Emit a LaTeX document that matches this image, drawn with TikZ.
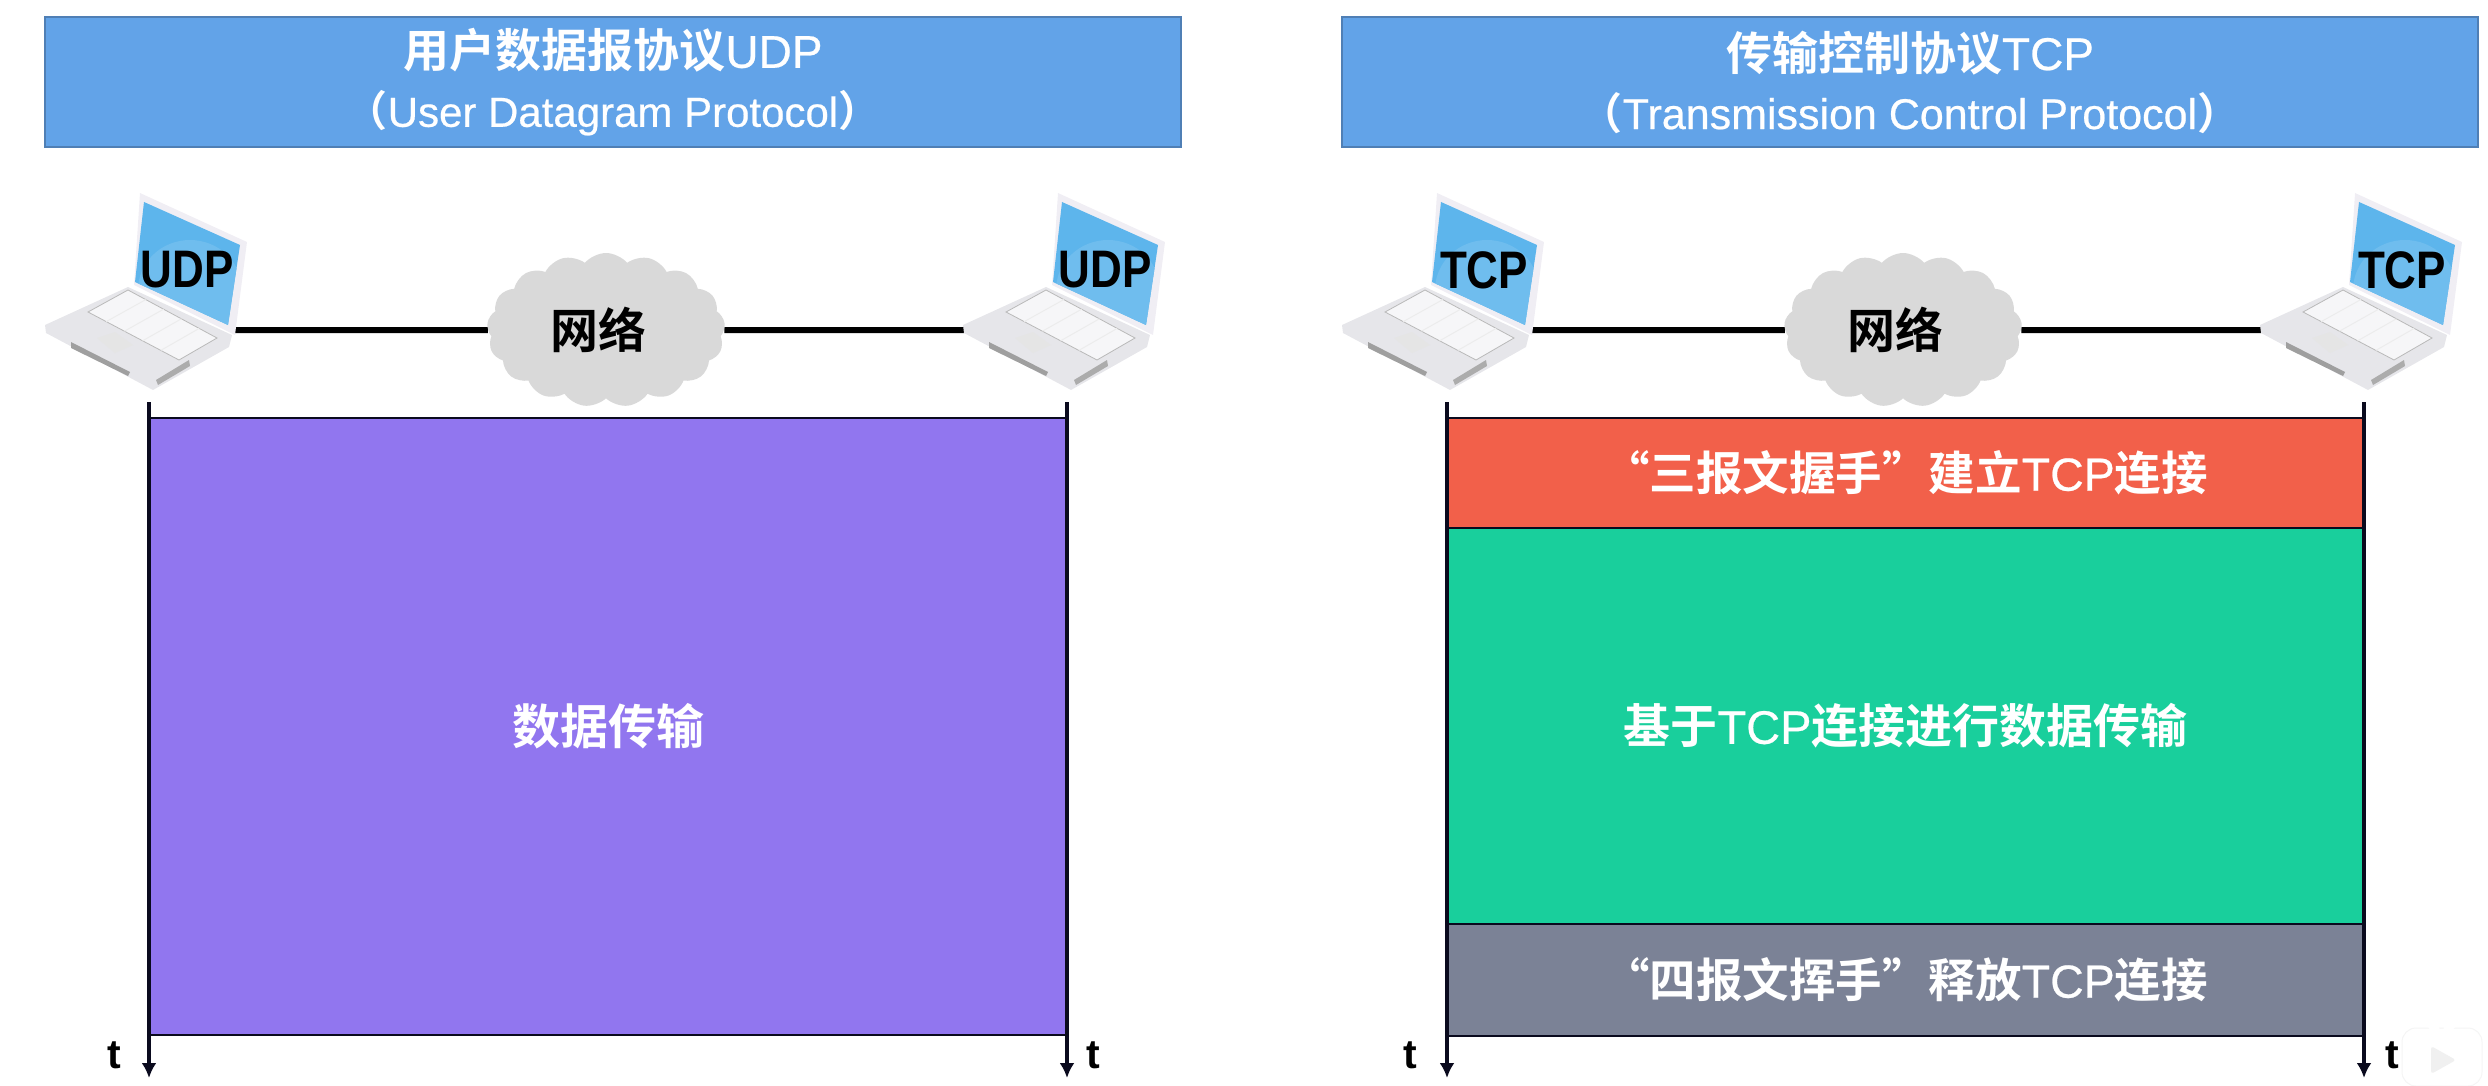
\documentclass[tikz,border=0pt]{standalone}
\usepackage{fontspec}
\setmainfont{Liberation Sans}[FakeBold=0.5]
\newfontfamily\plainlat{Liberation Sans}
\newfontfamily\cjfont{Noto Sans CJK SC}[BoldFont={* Bold}]
\newcommand{\cj}[1]{{\cjfont\bfseries #1}}
\usetikzlibrary{shapes.symbols,arrows.meta,calc,backgrounds}
\definecolor{headfill}{HTML}{62A3E8}
\definecolor{headline}{HTML}{4F7FB5}
\definecolor{purplefill}{HTML}{9176EF}
\definecolor{redfill}{HTML}{F2604A}
\definecolor{greenfill}{HTML}{19CF9C}
\definecolor{grayfill}{HTML}{7B8296}
\definecolor{cloudfill}{HTML}{D9D9D9}
\definecolor{screenblue}{HTML}{5DB5EC}
\definecolor{screenlight}{HTML}{6FBDEE}
\definecolor{laptopbody}{HTML}{E6E6EA}
\definecolor{laptopedge}{HTML}{F0EEF4}
\definecolor{laptopkeys}{HTML}{F6F6F8}
\definecolor{axisdark}{HTML}{0A0A1E}
\tikzset{
  headbox/.style={draw=headline,line width=2.5pt,fill=headfill,text=white,minimum width=1136pt,minimum height=130pt,align=center,inner sep=0pt,font=\fontsize{46pt}{60pt}\selectfont},
  phasebox/.style={draw=axisdark,line width=2.5pt,text=white,minimum width=917pt,inner sep=0pt,font=\fontsize{46.5pt}{50pt}\selectfont},
  netcloud/.style={cloud,cloud puffs=17,cloud puff arc=100,aspect=1.5,fill=cloudfill,minimum width=238pt,minimum height=154pt,inner sep=0pt,text=black,font=\fontsize{48pt}{50pt}\selectfont},
  wire/.style={line width=6pt,black},
  timeaxis/.style={line width=3.2pt,axisdark,-{Latex[length=15pt,width=15pt]}},
  timelabel/.style={font=\plainlat\bfseries\fontsize{41pt}{42pt}\selectfont,text=black,inner sep=0pt},
  lapproto/.style={font=\plainlat\bfseries\fontsize{44pt}{50pt}\selectfont,text=black,inner sep=0pt,yscale=-1.2},
  laptop/.pic={
    \coordinate (-east) at (235,330);
    \coordinate (-west) at (46,330);
    \fill[laptopedge] (140,193) -- (247,242) -- (235,335) -- (134,285) -- cycle;
    \fill[screenblue] (144,202) -- (240,245) -- (228,325) -- (135,282) -- cycle;
    \begin{scope}
      \clip (144,202) -- (240,245) -- (228,325) -- (135,282) -- cycle;
      \fill[screenlight] (190,290) ellipse (52pt and 50pt);
    \end{scope}
    \fill[laptopbody] (45,325) -- (128,287) -- (232,335) -- (229,347) -- (153,390) -- (46,333) -- cycle;
    \fill[laptopkeys,draw=gray!55,line width=.8pt] (88,312) -- (128,290) -- (217,338) -- (179,360) -- cycle;
    \foreach \i in {1,2,3,4}{
      \draw[white!85!gray,line width=1pt] ($(88,312)!\i/5!(179,360)$) -- ($(128,290)!\i/5!(217,338)$);
    }
    \fill[white!80!gray] (97,338) -- (115,332) -- (133,345) -- (115,353) -- cycle;
    \fill[gray!75] (71,342) -- (130,372) -- (128,376) -- (71,348) -- cycle;
    \fill[gray!65] (156,380) -- (189,360) -- (190,366) -- (158,385) -- cycle;
    \node[font=\plainlat\bfseries\fontsize{44pt}{50pt}\selectfont,text=black,inner sep=0pt,yscale=1.2,transform shape] (-label) at (187,270) {\tikzpictext};
  }
}
\begin{document}
\begin{tikzpicture}[x=1pt,y=-1pt]
\useasboundingbox (0,0) rectangle (2488,1086);
% headers
\node[headbox] (headU) at (613,82) {\cj{用户数据报协议}UDP\\[-1pt]\fontsize{42pt}{50pt}\selectfont\cj{（}User Datagram Protocol\cj{）}};
\node[headbox] (headT) at (1910,82) {\cj{传输控制协议}TCP\\[-1pt]\fontsize{43pt}{50pt}\selectfont\cj{（}Transmission Control Protocol\cj{）}};
% clouds
\node[netcloud] (cloudU) at (606,330) {\kern-16pt\cj{网络}};
\node[netcloud] (cloudT) at (1903,330) {\kern-16pt\cj{网络}};
% boxes
\node[phasebox,fill=purplefill,minimum height=617pt] (data) at (608,726.5) {\fontsize{48pt}{50pt}\selectfont\cj{数据传输}};
\node[phasebox,fill=redfill,minimum height=110pt] (est) at (1905.5,473) {\raisebox{-1pt}{\cj{“三报文握手”建立}TCP\cj{连接}}};
\node[phasebox,fill=greenfill,minimum height=396pt] (xfer) at (1905.5,726) {\fontsize{47pt}{50pt}\selectfont\cj{基于}TCP\cj{连接进行数据传输}};
\node[phasebox,fill=grayfill,minimum height=112pt] (rel) at (1905.5,980) {\cj{“四报文挥手”释放}TCP\cj{连接}};
% laptops
\path (0,0) pic (lapA) [pic text=UDP] {laptop};
\path (918,0) pic (lapB) [pic text=UDP] {laptop};
\path (1297,0) pic (lapC) [pic text=TCP] {laptop};
\path (2215,0) pic (lapD) [pic text=TCP] {laptop};
% wires
\begin{scope}[on background layer]
\draw[wire] (lapA-east) -- (cloudU.west);
\draw[wire] (cloudU.east) -- (lapB-west);
\draw[wire] (lapC-east) -- (cloudT.west);
\draw[wire] (cloudT.east) -- (lapD-west);
\end{scope}
% axes
\coordinate (a1s) at (149,402); \coordinate (a1e) at (149,1078);
\coordinate (a2s) at (1067,402); \coordinate (a2e) at (1067,1078);
\coordinate (a3s) at (1447,402); \coordinate (a3e) at (1447,1078);
\coordinate (a4s) at (2364,402); \coordinate (a4e) at (2364,1078);
\draw[timeaxis] (a1s) -- (a1e);
\draw[timeaxis] (a2s) -- (a2e);
\draw[timeaxis] (a3s) -- (a3e);
\draw[timeaxis] (a4s) -- (a4e);
\node[timelabel] (t1) at (114,1055) {t};
\node[timelabel] (t2) at (1093,1055) {t};
\node[timelabel] (t3) at (1410,1055) {t};
\node[timelabel] (t4) at (2392,1055) {t};
% watermark
\fill[white,draw=gray!8,line width=1pt,rounded corners=14pt] (2402,1028) rectangle (2482,1086);
\draw[white,line width=8pt,line cap=round] (2425,1018) -- (2436,1030);
\draw[white,line width=8pt,line cap=round] (2458,1018) -- (2447,1030);
\fill[gray!12,rounded corners=3pt] (2431,1046) -- (2456,1060) -- (2431,1074) -- cycle;
\end{tikzpicture}
\end{document}
